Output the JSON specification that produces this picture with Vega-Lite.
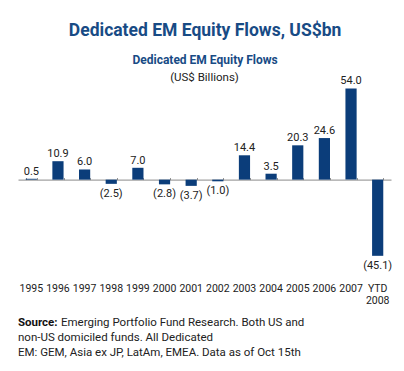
{
  "$schema": "https://vega.github.io/schema/vega-lite/v6.json",
  "background": "white",
  "padding": {"left": 18, "right": 13, "top": 21, "bottom": 0},
  "config": {
    "font": "Roboto",
    "view": {"stroke": null},
    "text": {"font": "Roboto"}
  },
  "title": {
    "text": "Dedicated EM Equity Flows, US$bn",
    "subtitle": "Dedicated EM Equity Flows",
    "anchor": "middle",
    "font": "Roboto",
    "fontSize": 17.5,
    "fontWeight": "bold",
    "color": "#184b85",
    "subtitleFont": "Roboto",
    "subtitleFontSize": 12,
    "subtitleFontWeight": "bold",
    "subtitleColor": "#184b85",
    "subtitlePadding": 16,
    "offset": 6
  },
  "spacing": 11,
  "vconcat": [
    {
      "width": 373,
      "height": 196,
      "title": {"text": "(US$ Billions)", "font": "Roboto", "fontSize": 11.5, "fontWeight": "normal", "color": "#222222", "offset": -8.6},
      "data": {
        "values": [
          {"year": "1995", "v": 0.5, "label": "0.5"},
          {"year": "1996", "v": 10.9, "label": "10.9"},
          {"year": "1997", "v": 6.0, "label": "6.0"},
          {"year": "1998", "v": -2.5, "label": "(2.5)"},
          {"year": "1999", "v": 7.0, "label": "7.0"},
          {"year": "2000", "v": -2.8, "label": "(2.8)"},
          {"year": "2001", "v": -3.7, "label": "(3.7)"},
          {"year": "2002", "v": -1.0, "label": "(1.0)"},
          {"year": "2003", "v": 14.4, "label": "14.4"},
          {"year": "2004", "v": 3.5, "label": "3.5"},
          {"year": "2005", "v": 20.3, "label": "20.3"},
          {"year": "2006", "v": 24.6, "label": "24.6"},
          {"year": "2007", "v": 54.0, "label": "54.0"},
          {"year": "YTD 2008", "v": -45.1, "label": "(45.1)"}
        ]
      },
      "resolve": {"axis": {"x": "independent"}},
      "layer": [
        {
          "mark": {"type": "bar", "color": "#0b3d7a"},
          "encoding": {
            "x": {
              "field": "year", "type": "nominal", "sort": null,
              "scale": {"paddingInner": 0.58, "paddingOuter": 0.29},
              "axis": {
                "orient": "bottom", "title": null, "domain": false, "ticks": false,
                "labelAngle": 0, "labelFont": "Roboto", "labelFontSize": 10.5, "labelColor": "#222222", "labelPadding": 2,
                "labelLineHeight": 12,
                "labelExpr": "datum.value == 'YTD 2008' ? ['YTD', '2008'] : datum.label"
              }
            },
            "y": {"field": "v", "type": "quantitative", "scale": {"domain": [-60, 56], "nice": false, "zero": true}, "axis": null}
          }
        },
        {
          "transform": [{"filter": "datum.v >= 0"}],
          "mark": {"type": "text", "baseline": "bottom", "dy": -2, "fontSize": 11, "color": "#222222"},
          "encoding": {
            "x": {
              "field": "year", "type": "nominal", "sort": null,
              "axis": {
                "orient": "top", "offset": -94.6, "labels": false, "title": null,
                "domainColor": "#8a8a8a", "tickColor": "#8a8a8a", "tickSize": 2, "tickBand": "extent"
              }
            },
            "y": {"field": "v", "type": "quantitative"},
            "text": {"field": "label"}
          }
        },
        {
          "transform": [{"filter": "datum.v < 0"}],
          "mark": {"type": "text", "baseline": "top", "dy": 4, "fontSize": 11, "color": "#222222"},
          "encoding": {
            "x": {"field": "year", "type": "nominal", "sort": null, "axis": null},
            "y": {"field": "v", "type": "quantitative"},
            "text": {"field": "label"}
          }
        }
      ]
    },
    {
      "width": 373,
      "height": 30,
      "data": {
        "values": [
          {"line": 1, "bold": "Source:", "text": "Emerging Portfolio Fund Research. Both US and"},
          {"line": 2, "bold": "", "text": "non-US domiciled funds. All Dedicated"},
          {"line": 3, "bold": "", "text": "EM: GEM, Asia ex JP, LatAm, EMEA. Data as of Oct 15th"}
        ]
      },
      "encoding": {
        "y": {"field": "line", "type": "ordinal", "axis": null, "scale": {"type": "point", "padding": 0}}
      },
      "layer": [
        {
          "mark": {"type": "text", "align": "left", "baseline": "middle", "fontWeight": "bold", "fontSize": 11.5, "color": "#111111"},
          "encoding": {"x": {"value": 0}, "text": {"field": "bold"}}
        },
        {
          "transform": [{"filter": "datum.line == 1"}],
          "mark": {"type": "text", "align": "left", "baseline": "middle", "fontSize": 11.5, "dx": 43, "color": "#222222"},
          "encoding": {"x": {"value": 0}, "text": {"field": "text"}}
        },
        {
          "transform": [{"filter": "datum.line != 1"}],
          "mark": {"type": "text", "align": "left", "baseline": "middle", "fontSize": 11.5, "color": "#222222"},
          "encoding": {"x": {"value": 0}, "text": {"field": "text"}}
        }
      ]
    }
  ]
}
